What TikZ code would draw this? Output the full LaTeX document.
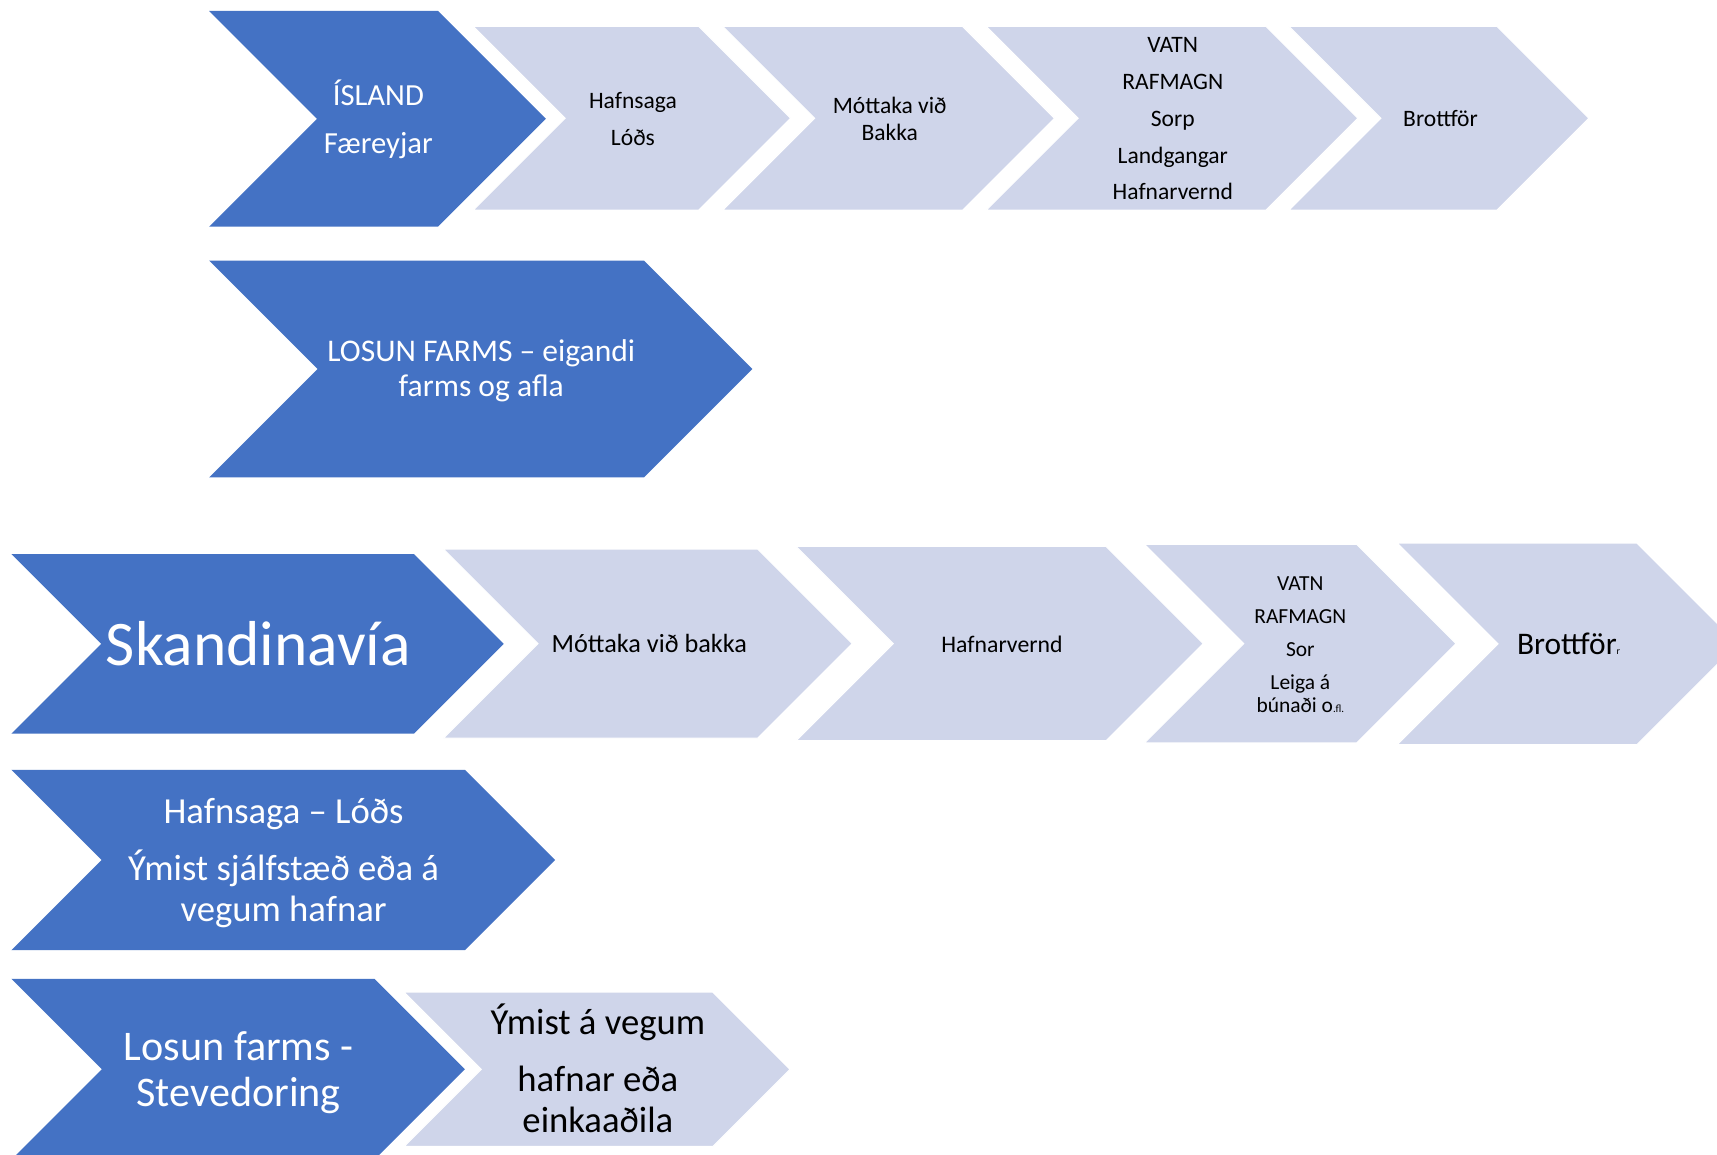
\documentclass[tikz,border=0pt]{standalone}
\usepackage{fontspec}
\setmainfont{Carlito}
\definecolor{chevdark}{HTML}{4472C4}
\definecolor{chevlight}{HTML}{CFD5EA}
\newcommand\fs[2]{\fontsize{#1}{#2}\selectfont}
% #1 style, #2 left x, #3 top y, #4 bottom y, #5 top-right x  (45 degree chevron)
\newcommand\chev[5]{%
  \path[#1] (#2,#3) -- (#5,#3) -- ({#5+(#4-#3)/2},{(#3+#4)/2}) -- (#5,#4) -- (#2,#4)
    -- ({#2+(#4-#3)/2},{(#3+#4)/2}) -- cycle;}
\tikzset{
  darkchev/.style={fill=chevdark},
  lightchev/.style={fill=chevlight, draw=white, line width=1pt},
  wtext/.style={text=white, align=center, inner sep=0pt},
  btext/.style={text=black, align=center, inner sep=0pt}
}
\begin{document}
\begin{tikzpicture}[x=1pt,y=-1pt]
\useasboundingbox (0,0) rectangle (1568,1054);
\clip (0,0) rectangle (1568,1054);
\fill[white] (0,0) rectangle (1568,1054);
% Row 1
\chev{darkchev}{191}{10}{207}{400}
\chev{lightchev}{432}{24}{192}{638}
\chev{lightchev}{660}{24}{192}{879}
\chev{lightchev}{900.5}{24}{192}{1156}
\chev{lightchev}{1177}{24}{192}{1367}
% Row 2
\chev{darkchev}{191}{238}{436}{588}
% Row 3
\chev{darkchev}{10.5}{506}{670}{378}
\chev{lightchev}{405}{501.5}{674}{692}
\chev{lightchev}{727}{499}{676.5}{1010}
\chev{lightchev}{1045}{497}{678.5}{1239}
\chev{lightchev}{1276}{496}{680}{1495}
% Row 4
\chev{darkchev}{10.5}{703}{867.6}{424.6}
% Row 5
\chev{darkchev}{10.5}{894}{1059}{342}
\chev{lightchev}{369}{906}{1047}{651}
% Texts
\node[wtext, font=\fs{28}{44}] (island) at (345.5,109) {ÍSLAND\\Færeyjar};
\node[btext, font=\fs{21.5}{34}] (hafnsaga1) at (578,108.5) {Hafnsaga\\Lóðs};
\node[btext, font=\fs{21.5}{24}] (mottaka1) at (812.5,108.5) {Móttaka við\\Bakka};
\node[btext, font=\fs{21.5}{33.6}] (vatn1) at (1071,108.5) {VATN\\RAFMAGN\\Sorp\\Landgangar\\Hafnarvernd};
\node[btext, font=\fs{21.5}{26}] (brott1) at (1315.5,108) {Brottför};
\node[wtext, font=\fs{28.8}{32}] (losun1) at (439.5,339) {LOSUN FARMS – eigandi\\farms og afla};
\node[wtext, font=\fs{58}{60}] (skand) at (236,588) {Skandinavía};
\node[btext, font=\fs{24}{26}] (mottaka2) at (593,588) {Móttaka við bakka};
\node[btext, font=\fs{21.7}{26}] (hafnarv2) at (915,588) {Hafnarvernd};
\node[btext, font=\fs{19.6}{30}] (vatn2) at (1187.5,588.5) {VATN\\RAFMAGN\\Sor\\Leiga á\\[-9pt]búnaði o{\fs{10}{10}.fl.}};
\node[btext, font=\fs{28.7}{30}] (brott2) at (1432.5,588) {Brottför{\fs{9}{9}r}};
\node[wtext, font=\fs{33.5}{37}] (hafnsaga2) at (259,788) {Hafnsaga – Lóðs\\[15pt]Ýmist sjálfstæð eða á\\vegum hafnar};
\node[wtext, font=\fs{38.5}{42}] (losun2) at (218,979.5) {Losun farms -\\Stevedoring};
\node[btext, font=\fs{33.5}{38}] (ymist) at (546,975.5) {Ýmist á vegum\\[14pt]hafnar eða\\einkaaðila};
\end{tikzpicture}
\end{document}
